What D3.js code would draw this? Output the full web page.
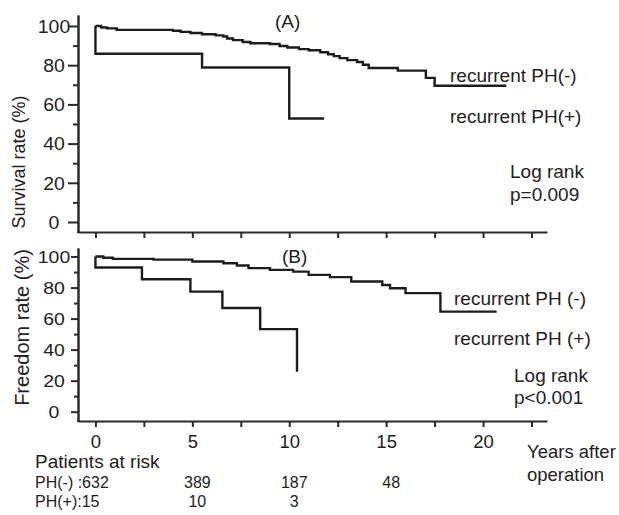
<!DOCTYPE html>
<html>
<head>
<meta charset="utf-8">
<script src="https://cdn.jsdelivr.net/npm/d3@7/dist/d3.min.js"></script>
<style>
  body { margin: 0; background: #fff; }
  svg { display: block; font-family: "Liberation Sans", Arial, sans-serif; }
  .axis path, .axis line { stroke: #2a2a2a; stroke-width: 2px; }
  .axis text { fill: #222; }
  .curve { fill: none; stroke: #1c1c1c; stroke-width: 2.4px; }
  .label { fill: #222; }
</style>
</head>
<body>
<div id="km-chart"></div>
<script>
// Panel A: overall survival
var timesA_neg = [0, 0.3, 0.6, 1.1, 4.0, 4.4, 4.9, 5.5, 6.2, 6.6, 6.8, 7.1, 7.6, 8.0, 9.0, 9.5, 9.9, 10.5, 11.0, 11.6, 12.0, 12.3, 12.6, 13.0, 13.5, 13.8, 14.1, 15.6, 17.05, 17.5, 21.2];
var survA_neg = [100, 99.2, 98.8, 98.0, 97.6, 97.0, 96.4, 95.8, 95.2, 94.6, 93.6, 92.8, 91.8, 91.2, 90.8, 89.8, 89.0, 88.2, 87.6, 86.6, 85.6, 84.6, 83.6, 82.6, 81.6, 80.2, 78.6, 77.2, 73.5, 69.5, 69.5];
var timesA_pos = [0, 0, 5.5, 10.0, 11.8];
var survA_pos = [100, 85.8, 78.8, 52.8, 52.8];

// Panel B: freedom from event
var timesB_neg = [0, 0.4, 0.9, 3.0, 5.0, 6.6, 7.3, 7.9, 9.0, 10.2, 11.0, 12.1, 13.2, 14.8, 15.2, 16.0, 17.8, 20.7];
var survB_neg = [100, 99.2, 98.5, 98.0, 96.8, 95.7, 94.2, 92.5, 91.4, 90.3, 88.2, 86.7, 83.9, 81.7, 79.6, 76.4, 64.5, 64.5];
var timesB_pos = [0, 0, 2.4, 4.9, 6.55, 8.5, 10.4];
var survB_pos = [100, 92.9, 85.4, 77.4, 66.8, 53.2, 25.8];

// Ticks
var yMajorTicks = [0, 20, 40, 60, 80, 100];
var yMinorTicks = [10, 30, 50, 70, 90];
var xTicks = [0, 2.5, 5, 7.5, 10, 12.5, 15, 17.5, 20, 22.5];

// Patients at risk
var riskTimes = [5, 10, 15];
var riskNeg = [389, 187, 48];
var riskPos = [10, 3];

var width = 619;
var height = 515;

var toPoints = (times, vals) => times.map((t, i) => [t, vals[i]]);

var render = function() {
  var container = d3.select("#km-chart");
  container.html("");

  var svg = container.append("svg")
    .attr("width", width)
    .attr("height", height);

  var xScale = d3.scaleLinear()
    .domain([-0.9, 23.3])
    .range([78, 547]);

  var panels = [
    {
      name: "(A)", nameX: 275, nameY: 28,
      yDomain: [-5.1, 105.6], yRange: [232, 15],
      majorLen: 10, minorLen: 5, tickFont: 18,
      title: "Survival rate (%)", titleX: 25, titleY: 162, titleFont: 18,
      series: [toPoints(timesA_neg, survA_neg), toPoints(timesA_pos, survA_pos)],
      showXLabels: false,
      labels: [
        { text: "recurrent PH(-)", x: 450, y: 81.5 },
        { text: "recurrent PH(+)", x: 450, y: 122.5 },
        { text: "Log rank", x: 510, y: 178 },
        { text: "p=0.009", x: 510, y: 200.5 }
      ]
    },
    {
      name: "(B)", nameX: 282, nameY: 262.5,
      yDomain: [-6, 105.5], yRange: [421, 248],
      majorLen: 7, minorLen: 4, tickFont: 16,
      title: "Freedom rate (%)", titleX: 29, titleY: 327.5, titleFont: 20,
      series: [toPoints(timesB_neg, survB_neg), toPoints(timesB_pos, survB_pos)],
      showXLabels: true,
      labels: [
        { text: "recurrent PH (-)", x: 454, y: 305 },
        { text: "recurrent PH (+)", x: 454, y: 345 },
        { text: "Log rank", x: 514, y: 381.5 },
        { text: "p<0.001", x: 514, y: 403.5 }
      ]
    }
  ];

  panels.forEach(function(p) {
    var yScale = d3.scaleLinear().domain(p.yDomain).range(p.yRange);
    var axisY = p.yRange[0];

    // y axis (major + minor ticks)
    var yAxis = svg.append("g")
      .attr("class", "y axis")
      .attr("transform", "translate(78,0)")
      .call(d3.axisLeft(yScale)
        .tickValues(yMajorTicks)
        .tickSize(p.majorLen)
        .tickSizeOuter(0));

    yAxis.selectAll("text")
      .attr("x", -24)
      .attr("dy", "0.35em")
      .attr("text-anchor", "middle")
      .style("font-size", p.tickFont + "px")
      .attr("textLength", d => String(d).length * 10.8)
      .attr("lengthAdjust", "spacingAndGlyphs");

    svg.append("g")
      .attr("class", "y axis minor")
      .attr("transform", "translate(78,0)")
      .call(d3.axisLeft(yScale)
        .tickValues(yMinorTicks)
        .tickSize(p.minorLen)
        .tickSizeOuter(0)
        .tickFormat(""));

    // x axis
    var xAxis = svg.append("g")
      .attr("class", "x axis")
      .attr("transform", `translate(0,${axisY})`)
      .call(d3.axisBottom(xScale)
        .tickValues(xTicks)
        .tickSize(6)
        .tickSizeOuter(0)
        .tickPadding(8)
        .tickFormat(d => (p.showXLabels && d % 5 == 0) ? d : ""));

    xAxis.selectAll("text")
      .style("font-size", "18.5px");

    // join the axis lines at the corner
    svg.append("line")
      .attr("class", "corner")
      .attr("x1", 77).attr("x2", 79)
      .attr("y1", axisY).attr("y2", axisY)
      .attr("stroke", "#2a2a2a")
      .attr("stroke-width", 2);

    // curves
    var line = d3.line()
      .x(d => xScale(d[0]))
      .y(d => yScale(d[1]))
      .curve(d3.curveStepAfter);

    svg.append("g")
      .attr("class", "curves")
      .selectAll("path")
      .data(p.series)
      .enter()
      .append("path")
      .attr("class", "curve")
      .attr("d", line);

    // panel name
    svg.append("text")
      .attr("class", "label")
      .attr("x", p.nameX)
      .attr("y", p.nameY)
      .style("font-size", "19px")
      .text(p.name);

    // y title
    svg.append("text")
      .attr("class", "label")
      .attr("transform", `translate(${p.titleX},${p.titleY}) rotate(-90)`)
      .attr("text-anchor", "middle")
      .style("font-size", p.titleFont + "px")
      .text(p.title);

    // annotations
    svg.append("g")
      .selectAll("text")
      .data(p.labels)
      .enter()
      .append("text")
      .attr("class", "label")
      .attr("x", d => d.x)
      .attr("y", d => d.y)
      .style("font-size", "19px")
      .text(d => d.text);
  });

  // x axis title
  svg.append("text")
    .attr("class", "label")
    .attr("x", 527).attr("y", 458)
    .style("font-size", "18.5px")
    .text("Years after");
  svg.append("text")
    .attr("class", "label")
    .attr("x", 527).attr("y", 481)
    .style("font-size", "18.5px")
    .text("operation");

  // patients at risk table
  svg.append("text")
    .attr("class", "label")
    .attr("x", 35).attr("y", 468)
    .style("font-size", "19px")
    .text("Patients at risk");

  var rows = [
    { prefix: "PH(-) :632", values: riskNeg, y: 488 },
    { prefix: "PH(+):15", values: riskPos, y: 507 }
  ];

  rows.forEach(function(r) {
    svg.append("text")
      .attr("class", "label")
      .attr("x", 35).attr("y", r.y)
      .style("font-size", "16px")
      .text(r.prefix);
    svg.append("g")
      .selectAll("text")
      .data(r.values)
      .enter()
      .append("text")
      .attr("class", "label")
      .attr("x", (d, i) => xScale(riskTimes[i]) + 5)
      .attr("y", r.y)
      .attr("text-anchor", "middle")
      .style("font-size", "16px")
      .text(d => d);
  });
};

window.onload = render;
</script>
</body>
</html>
